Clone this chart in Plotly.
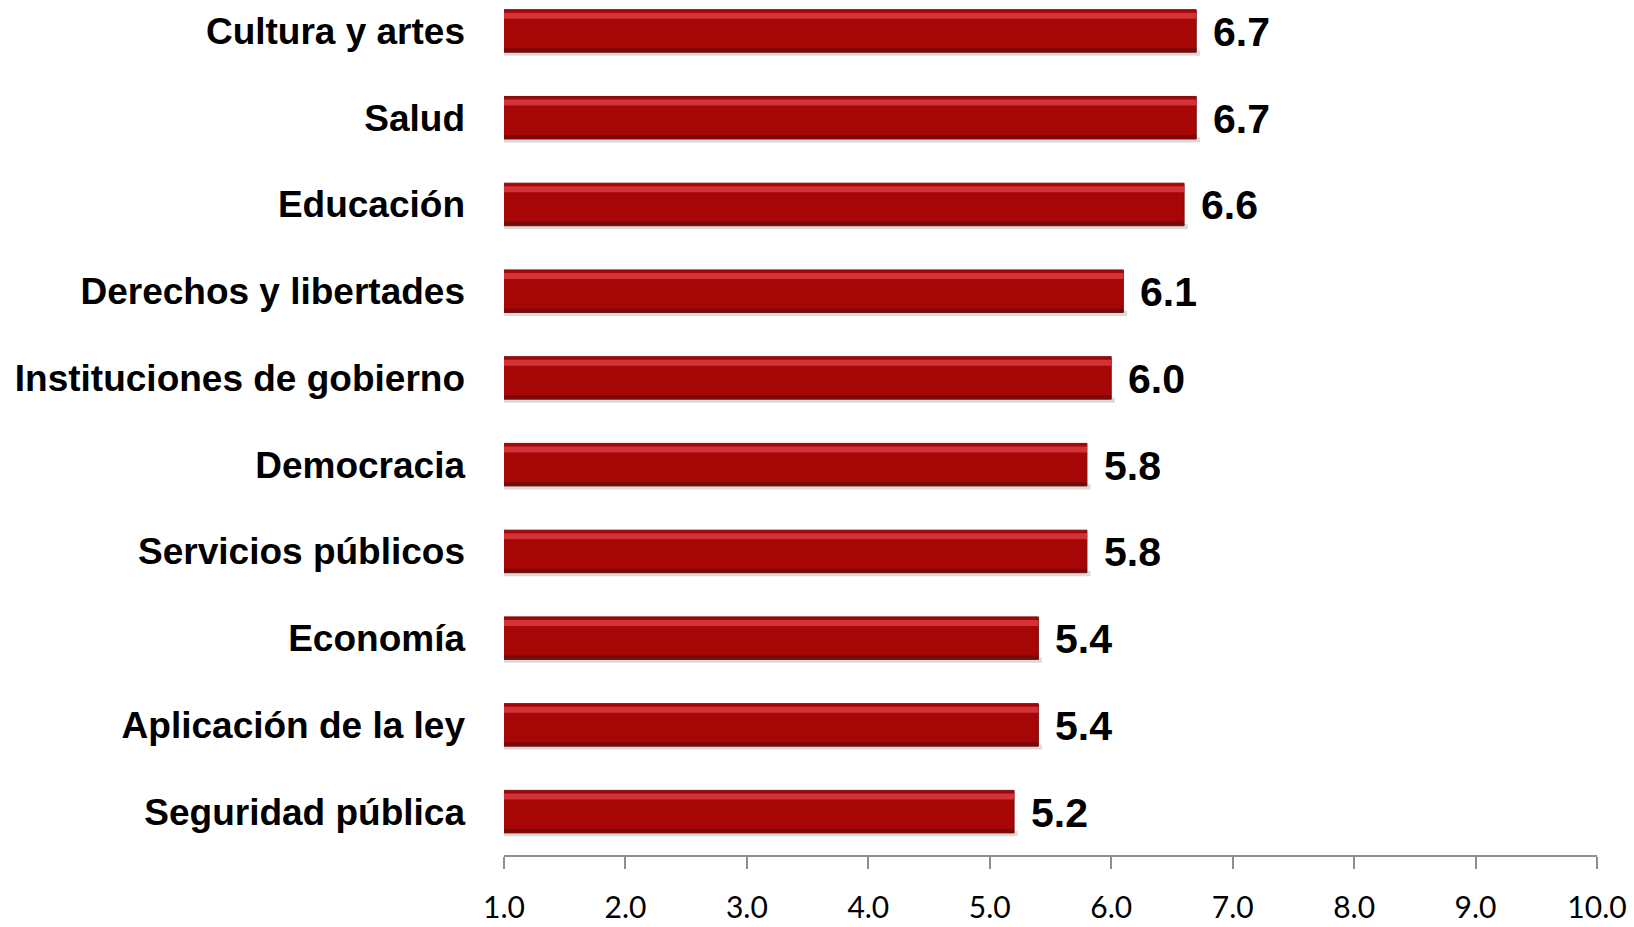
import plotly.graph_objects as go

categories = ["Seguridad pública", "Aplicación de la ley", "Economía", "Servicios públicos",
              "Democracia", "Instituciones de gobierno", "Derechos y libertades",
              "Educación", "Salud", "Cultura y artes"]
values = [5.2, 5.4, 5.4, 5.8, 5.8, 6.0, 6.1, 6.6, 6.7, 6.7]
tick_vals = [1, 2, 3, 4, 5, 6, 7, 8, 9, 10]
tick_text = ["1.0", "2.0", "3.0", "4.0", "5.0", "6.0", "7.0", "8.0", "9.0", "10.0"]

fig = go.Figure()
# shadow
fig.add_trace(go.Bar(y=categories, x=[v + 0.03 for v in values], orientation="h",
                     width=0.06, offset=-0.285, marker=dict(color="rgba(150,150,150,0.35)", line=dict(width=0)),
                     hoverinfo="skip", showlegend=False))
# main bar
fig.add_trace(go.Bar(y=categories, x=values, orientation="h",
                     width=0.49, offset=-0.245,
                     marker=dict(color="#a60606", line=dict(color="#7a0c0c", width=1)),
                     showlegend=False))
# top highlight
fig.add_trace(go.Bar(y=categories, x=values, orientation="h",
                     width=0.07, offset=0.14,
                     marker=dict(color="rgba(232,70,80,0.7)", line=dict(width=0)),
                     hoverinfo="skip", showlegend=False))
# bottom dark edge
fig.add_trace(go.Bar(y=categories, x=values, orientation="h",
                     width=0.04, offset=-0.24,
                     marker=dict(color="rgba(110,10,10,0.8)", line=dict(width=0)),
                     hoverinfo="skip", showlegend=False))

for c, v in zip(categories, values):
    fig.add_annotation(x=v, y=c, text=f"{v:.1f}", showarrow=False, xanchor="left",
                       xshift=15, font=dict(family="Liberation Sans", size=41, color="#000000", weight="bold"),
                       yshift=-1)

fig.update_layout(
    width=1634, height=927,
    margin=dict(l=504, r=37, t=0, b=72),
    paper_bgcolor="white", plot_bgcolor="white",
    barmode="overlay",
    font=dict(family="Liberation Sans", color="#000000"),
)
fig.update_xaxes(range=[1, 10], tickvals=tick_vals, ticktext=tick_text,
                 showgrid=False, zeroline=False, showline=True, linecolor="#8f8f8f", linewidth=2,
                 ticks="outside", ticklen=12, tickwidth=2, tickcolor="#8f8f8f",
                 tickfont=dict(family="Lato", size=30, color="#000000"), ticklabelstandoff=13,
                 automargin=False)
fig.update_yaxes(range=[-0.5, 9.357], type="category", categoryorder="array", categoryarray=categories,
                 showgrid=False, zeroline=False, showline=False, ticks="",
                 tickfont=dict(family="Liberation Sans", size=37, color="#000000", weight="bold"),
                 ticklabelstandoff=38, automargin=False)

fig.write_html("out.html", config={"displayModeBar": False},
               post_script="document.body.style.margin='0';document.body.style.overflow='hidden';")
